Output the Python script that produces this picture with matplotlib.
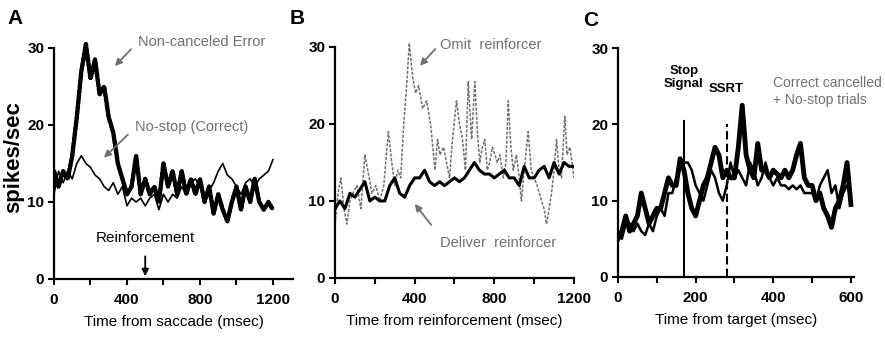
import matplotlib
matplotlib.use("Agg")
import matplotlib.pyplot as plt
import numpy as np

plt.rcParams['font.family'] = ['Liberation Sans', 'DejaVu Sans']

# panel A: time from saccade, 25 ms bins
a_t = np.arange(0, 1201, 25)
a_error = [14, 12, 14, 13, 16, 21, 27, 30.5, 26, 28.5,
           24, 25, 21, 19, 15, 13, 11, 12, 16, 11,
           13, 11, 12, 10, 15, 12, 14, 11, 14, 11,
           13, 11, 13, 10, 12, 8.5, 11, 9, 7.5, 10,
           12, 9, 12, 10, 13, 10, 9, 10, 9]
a_correct = [11, 14, 12.5, 14, 13, 15, 16, 15, 14.5, 13.5,
             13, 12, 11.5, 12.5, 11, 12, 9.5, 10.5, 10, 10.5,
             9.5, 10.5, 11, 9, 11, 10, 11, 10.5, 12, 11,
             12.5, 13, 12, 11, 11.5, 12.5, 14, 15, 13.5, 13,
             12, 11, 12.5, 13, 12, 13, 13.5, 14, 15.5]

# panel B: time from reinforcement
b_omit_t = [0, 15, 30, 45, 60, 75, 90, 110, 130, 150,
            165, 185, 205, 225, 245, 268, 285, 300, 315, 330,
            345, 360, 373, 390, 405, 420, 440, 460, 480, 502,
            515, 527, 545, 560, 575, 590, 610, 625, 640, 655,
            669, 686, 702, 715, 727, 740, 752, 765, 777, 790,
            803, 815, 828, 845, 858, 870, 883, 895, 911, 925,
            936, 950, 970, 985, 1000, 1015, 1037, 1050, 1062, 1075,
            1087, 1100, 1112, 1125, 1137, 1154, 1165, 1179, 1190, 1200]
b_omit = [7, 11, 13, 9, 7, 10, 11, 12, 9, 16,
          14, 11, 12, 10, 12, 19, 15, 12, 14, 13,
          20, 25, 30.5, 26, 24, 25, 22, 23, 20, 14,
          18, 16, 17, 15, 13, 18, 23, 20, 18, 14,
          25.5, 18, 25.5, 19, 15, 17, 18, 14, 15, 17,
          16, 15, 16, 13, 15, 23, 17, 14, 16, 13,
          10, 14, 19, 14, 13, 12, 10, 9, 7, 9,
          11, 14, 18, 14, 13, 21, 16, 17, 15, 13]
b_deliver_t = np.arange(0, 1201, 25)
b_deliver = [9, 10, 9, 11, 10.5, 11.5, 12.5, 10, 10.5, 10,
             10, 12, 13, 11, 10.5, 12, 13, 13, 14, 12.5,
             12, 12.5, 12, 12.5, 13, 12.5, 13, 14, 15, 14,
             13.5, 13.5, 13, 13.5, 14, 13, 13, 12, 14.5, 13,
             13, 14, 14.5, 13, 15, 13.5, 15, 14.5, 14.5]

# panel C: time from target, 10 ms bins
c_t = np.arange(0, 601, 10)
c_cancelled = [5, 6, 8, 6, 7, 8, 11, 9, 7, 8,
               9, 9, 11, 13, 12, 12, 15.5, 14, 11, 9,
               8, 10, 12, 13, 15, 17, 16, 13, 14, 13,
               13, 17, 22.5, 16, 14, 13, 17.5, 14, 14, 13,
               14, 13.5, 13, 14, 13, 14, 16, 17.5, 13, 12,
               12, 10, 11, 9, 8, 6.5, 9, 10, 12, 15, 9.5]
c_nostop = [6, 5, 7, 7, 6, 7, 6, 5.5, 7, 6,
            8, 9, 8, 11, 11, 13, 14, 15, 15, 14,
            12, 11, 10, 12, 14, 13, 11, 10, 12, 15,
            13, 14, 13, 12, 15, 14, 12, 13, 15, 13,
            12, 13, 12, 12, 11.5, 12, 11.5, 12, 11, 11,
            11, 10, 12, 13, 14, 11, 12, 9, 11, 12, 11]
stop_signal = 170
ssrt = 282

gray = '#707070'
fs = 10.5

fig = plt.figure(figsize=(8.85, 3.44), dpi=100)
axA = fig.add_axes([0.0610, 0.1890, 0.2701, 0.7163])
axB = fig.add_axes([0.3785, 0.1919, 0.2701, 0.7163])
axC = fig.add_axes([0.6983, 0.1948, 0.2667, 0.7098])


def style(ax, xmax, major, labels, xlabel):
    ax.set_xlim(0, xmax)
    ax.set_ylim(0, 32)
    for s in ['top', 'right']:
        ax.spines[s].set_visible(False)
    for s in ['left', 'bottom']:
        ax.spines[s].set_linewidth(1.6)
    ax.spines['left'].set_bounds(0, 30)
    ax.set_yticks([0, 10, 20, 30])
    ax.set_xticks(major)
    ax.set_xticklabels([str(m) if m in labels else '' for m in major])
    ax.tick_params(direction='out', length=4, width=1.5, labelsize=11, pad=3)
    ax.tick_params(axis='x', pad=6)
    for lab in ax.get_xticklabels() + ax.get_yticklabels():
        lab.set_fontweight('bold')
    ax.set_xlabel(xlabel, fontsize=11, labelpad=6)
    ax.patch.set_alpha(0)


# A
axA.plot(a_t, a_correct, color='black', lw=1.2)
axA.plot(a_t, a_error, color='black', lw=3.2, linestyle=(0, (0.7, 0.5)),
         dash_capstyle='round')
style(axA, 1310, range(0, 1201, 200), [0, 400, 800, 1200], 'Time from saccade (msec)')
axA.text(460, 30.8, 'Non-canceled Error', color=gray, fontsize=fs, va='center')
axA.annotate('', xy=(323, 27.4), xytext=(433, 30.1),
             arrowprops=dict(arrowstyle='-|>', color=gray, lw=1.3))
axA.text(444, 19.7, 'No-stop (Correct)', color=gray, fontsize=fs, va='center')
axA.annotate('', xy=(263, 15.5), xytext=(416, 19.0),
             arrowprops=dict(arrowstyle='-|>', color=gray, lw=1.3))
axA.text(499, 5.3, 'Reinforcement', color='black', fontsize=11, ha='center', va='center')
axA.annotate('', xy=(500, 0), xytext=(500, 3.3),
             arrowprops=dict(arrowstyle='-|>', color='black', lw=1.3))

# B
axB.plot(b_omit_t, b_omit, color=gray, lw=1.1, linestyle=(0, (2, 1)))
axB.plot(b_deliver_t, b_deliver, color='black', lw=2.2)
style(axB, 1200, range(0, 1201, 200), [0, 400, 800, 1200], 'Time from reinforcement (msec)')
axB.text(528, 30.3, 'Omit  reinforcer', color=gray, fontsize=fs, va='center')
axB.annotate('', xy=(417, 27.3), xytext=(513, 30.0),
             arrowprops=dict(arrowstyle='-|>', color=gray, lw=1.3))
axB.text(528, 4.5, 'Deliver  reinforcer', color=gray, fontsize=fs, va='center')
axB.annotate('', xy=(392, 9.9), xytext=(492, 6.6),
             arrowprops=dict(arrowstyle='-|>', color=gray, lw=1.3))

# C
axC.plot(c_t, c_nostop, color='black', lw=1.8)
axC.plot(c_t, c_cancelled, color='black', lw=3.5)
axC.plot([stop_signal, stop_signal], [0, 20.5], color='black', lw=1.5)
axC.plot([ssrt, ssrt], [0, 20], color='black', lw=1.5, linestyle=(0, (4, 2)))
style(axC, 608, range(0, 601, 100), [0, 200, 400, 600], 'Time from target (msec)')
axC.text(stop_signal, 26.1, 'Stop\nSignal', color='black', fontsize=9.5,
         fontweight='bold', ha='center', va='center', linespacing=1.1)
axC.text(279, 24.6, 'SSRT', color='black', fontsize=9.5, fontweight='bold',
         ha='center', va='center')
axC.text(400, 24.3, 'Correct cancelled\n+ No-stop trials', color=gray, fontsize=10,
         va='center', linespacing=1.3)

fig.text(14 / 885, 0.544, 'spikes/sec', rotation=90, fontsize=16, fontweight='bold',
         ha='center', va='center')
for x, y, s in [(15, 19, 'A'), (297, 19, 'B'), (591, 20, 'C')]:
    fig.text(x / 885, 1 - y / 344, s, fontsize=15, fontweight='bold',
             ha='center', va='center')

fig.savefig('out.png', dpi=100)
